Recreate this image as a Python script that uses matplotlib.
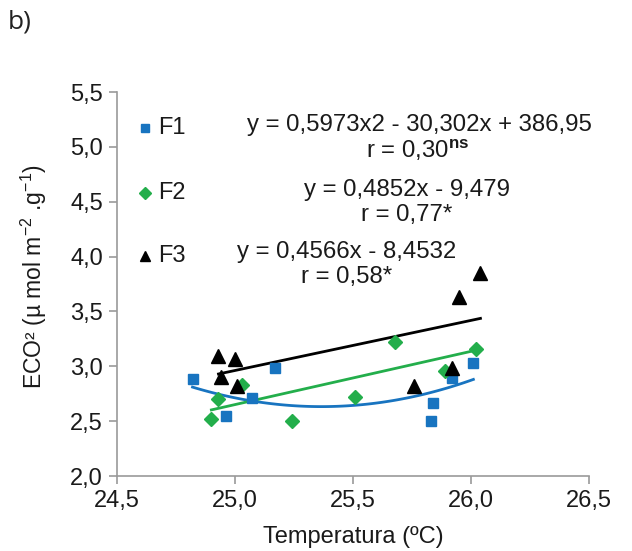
import numpy as np
import matplotlib.pyplot as plt

plt.rcParams['font.family'] = ['Liberation Sans', 'DejaVu Sans']
plt.rcParams['mathtext.fontset'] = 'custom'
plt.rcParams['mathtext.rm'] = 'Liberation Sans'
plt.rcParams['mathtext.it'] = 'Liberation Sans:italic'
plt.rcParams['mathtext.bf'] = 'Liberation Sans:bold'

# dados
f1_x = [24.82, 24.96, 25.07, 25.17, 25.83, 25.84, 25.92, 26.01]
f1_y = [2.88, 2.55, 2.71, 2.98, 2.50, 2.67, 2.89, 3.03]
f2_x = [24.90, 24.93, 25.03, 25.24, 25.51, 25.68, 25.89, 26.02]
f2_y = [2.52, 2.70, 2.83, 2.50, 2.72, 3.22, 2.96, 3.16]
f3_x = [24.93, 25.00, 24.94, 25.01, 25.76, 25.92, 25.95, 26.04]
f3_y = [3.09, 3.07, 2.90, 2.82, 2.82, 2.98, 3.63, 3.85]

# coeficientes das linhas de tendencia (do grafico)
coef1 = [0.5973, -30.302, 386.95]
coef2 = [0.4852, -9.479]
coef3 = [0.4566, -8.4532]

azul = '#1874C0'
verde = '#23AE4B'
preto = '#000000'

fig = plt.figure(figsize=(6.32, 5.51), dpi=100)
ax = fig.add_axes([0.1851, 0.1361, 0.7469, 0.6969])

xs = np.linspace(min(f1_x), max(f1_x), 100)
ax.plot(xs, np.polyval(coef1, xs), color=azul, lw=2)
xs = np.linspace(min(f2_x), max(f2_x), 2)
ax.plot(xs, np.polyval(coef2, xs), color=verde, lw=2)
xs = np.linspace(min(f3_x), max(f3_x), 2)
ax.plot(xs, np.polyval(coef3, xs), color=preto, lw=2)

ax.plot(f1_x, f1_y, 's', color=azul, ms=7.5, ls='none', zorder=3)
ax.plot(f2_x, f2_y, 'D', color=verde, ms=7, ls='none', zorder=3)
ax.plot(f3_x, f3_y, '^', color=preto, ms=9.5, ls='none', zorder=3)

# legenda manual
leg = [('s', azul, 6, 'F1', 128), ('D', verde, 6, 'F2', 193), ('^', preto, 7, 'F3', 256)]
for m, c, s, t, py in leg:
    yf = 1 - py / 551
    fig.lines.append(plt.Line2D([145 / 632], [yf], marker=m, color=c, ms=s,
                                ls='none', transform=fig.transFigure))
    fig.text(158 / 632, yf, t, fontsize=17, va='center', ha='left', color='#1a1a1a')

eqs = [
    ('y = 0,5973x2 - 30,302x + 386,95', 419, 125),
    (r'r = 0,30$^{\mathbf{ns}}$', 418, 150),
    ('y = 0,4852x - 9,479', 407, 190),
    ('r = 0,77*', 407, 215),
    ('y = 0,4566x - 8,4532', 347, 252),
    ('r = 0,58*', 347, 277),
]
for t, px, py in eqs:
    fig.text(px / 632, 1 - py / 551, t, fontsize=17.3, ha='center', va='center',
             color='#1a1a1a')

ax.set_xlim(24.5, 26.5)
ax.set_ylim(2.0, 5.5)
xt = [24.5, 25.0, 25.5, 26.0, 26.5]
yt = [2.0, 2.5, 3.0, 3.5, 4.0, 4.5, 5.0, 5.5]
ax.set_xticks(xt)
ax.set_xticklabels([f'{v:.1f}'.replace('.', ',') for v in xt])
ax.set_yticks(yt)
ax.set_yticklabels([f'{v:.1f}'.replace('.', ',') for v in yt])

for s in ['top', 'right']:
    ax.spines[s].set_visible(False)
for s in ['left', 'bottom']:
    ax.spines[s].set_color('#9a9a9a')
    ax.spines[s].set_linewidth(1.2)
ax.tick_params(length=6, width=1.2, color='#9a9a9a', labelsize=17,
               labelcolor='#1a1a1a', pad=4)

ax.set_xlabel('Temperatura (ºC)', fontsize=17, color='#1a1a1a', labelpad=10)
ax.set_ylabel(r'ECO² (µ mol m$^{-2}$ .g$^{-1}$)', fontsize=16.5, color='#1a1a1a')
ax.yaxis.set_label_coords(-0.145, 0.52)

fig.text(8 / 632, 1 - 22 / 551, 'b)', fontsize=19, family='Open Sans',
         va='center', ha='left', color='#222222')

fig.savefig('out.png', dpi=100)
